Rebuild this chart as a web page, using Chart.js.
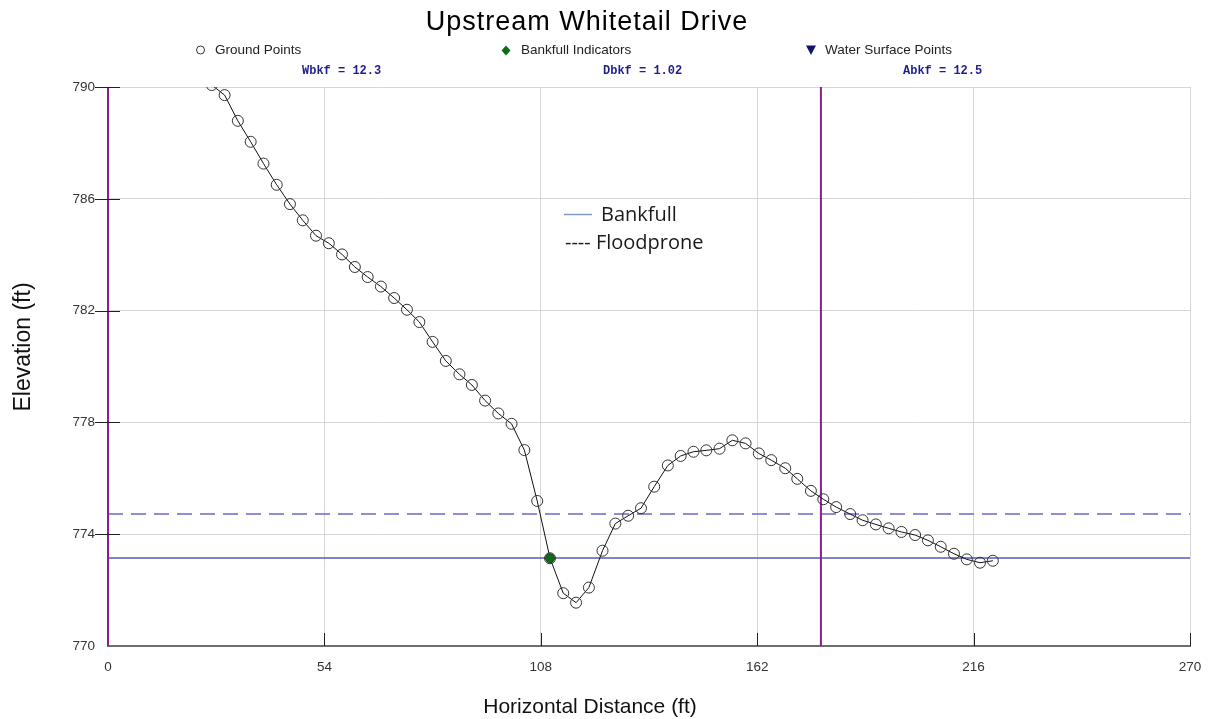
<!DOCTYPE html>
<html>
<head>
<meta charset="utf-8">
<script src="https://cdn.jsdelivr.net/npm/chart.js@4.4.1/dist/chart.umd.min.js"></script>
<style>
html,body{margin:0;padding:0;background:#fff;}
canvas{display:block;}
</style>
</head>
<body>
<canvas id="c" width="1208" height="719"></canvas>
<script>
// ---- data ----
const groundX = [22.6, 25.9, 29.1, 32.4, 35.6, 38.8, 42.1, 45.4, 48.6, 51.9, 55.1, 58.4, 61.6, 64.8, 68.1, 71.4, 74.6, 77.7, 81.0, 84.3, 87.7, 90.8, 94.1, 97.4, 100.7, 103.9, 107.1, 110.3, 113.6, 116.8, 120.0, 123.4, 126.6, 129.8, 133.0, 136.3, 139.7, 142.9, 146.1, 149.3, 152.6, 155.8, 159.1, 162.4, 165.5, 169.0, 172.0, 175.4, 178.5, 181.7, 185.2, 188.3, 191.6, 194.8, 198.0, 201.4, 204.6, 207.8, 211.1, 214.3, 217.6, 220.8];
const groundY = [790.6, 790.07, 789.71, 788.79, 788.04, 787.26, 786.50, 785.81, 785.23, 784.68, 784.41, 784.01, 783.56, 783.20, 782.86, 782.45, 782.03, 781.59, 780.88, 780.20, 779.72, 779.34, 778.78, 778.32, 777.95, 777.01, 775.19, 773.14, 771.89, 771.55, 772.09, 773.41, 774.38, 774.66, 774.93, 775.70, 776.46, 776.80, 776.95, 777.00, 777.06, 777.36, 777.25, 776.89, 776.65, 776.36, 775.98, 775.55, 775.25, 774.97, 774.72, 774.50, 774.35, 774.21, 774.08, 773.97, 773.78, 773.55, 773.30, 773.10, 772.98, 773.05];
const bankfullIndicatorX = [110.3];
const bankfullIndicatorY = [773.14];
const bankfullElevation = 773.15;
const floodproneElevation = 774.72;
const floodproneEdgeX = [0, 177.9];
const xRange = [0, 270];
const yRange = [770, 790];
const xTicks = [0, 54, 108, 162, 216, 270];
const yTicks = [770, 774, 778, 782, 786, 790];
const chartTitle = 'Upstream Whitetail Drive';
const legendLabels = ['Ground Points', 'Bankfull Indicators', 'Water Surface Points'];
const statLabels = ['Wbkf = 12.3', 'Dbkf = 1.02', 'Abkf = 12.5'];
const innerLegend = ['Bankfull', '---- Floodprone'];
const xTitle = 'Horizontal Distance (ft)';
const yTitle = 'Elevation (ft)';

const pts = (xs, ys) => xs.map((v, i) => ({x: v, y: ys[i]}));

const datasets = [
  {
    label: 'Bankfull',
    data: [{x: xRange[0], y: bankfullElevation}, {x: xRange[1], y: bankfullElevation}],
    borderColor: '#5a5ab8', borderWidth: 1.5, pointRadius: 0, showLine: true, order: 5
  },
  {
    label: 'Floodprone',
    data: [{x: xRange[0], y: floodproneElevation}, {x: xRange[1], y: floodproneElevation}],
    borderColor: '#6a6ac4', borderWidth: 1.5, borderDash: [15, 8], pointRadius: 0, showLine: true, order: 5
  },
  ...floodproneEdgeX.map(v => ({
    label: 'edge',
    data: [{x: v, y: yRange[0]}, {x: v, y: yRange[1]}],
    borderColor: '#8e1c8e', borderWidth: 2, pointRadius: 0, showLine: true, clip: false, order: 4
  })),
  {
    label: legendLabels[0],
    data: pts(groundX, groundY),
    showLine: true, borderColor: '#111', borderWidth: 1, tension: 0,
    pointStyle: 'circle', pointRadius: 5.5, pointBorderWidth: 1,
    pointBorderColor: '#333', pointBackgroundColor: 'rgba(255,255,255,0)', order: 2
  },
  {
    label: legendLabels[1],
    data: pts(bankfullIndicatorX, bankfullIndicatorY),
    showLine: false, pointStyle: 'circle', pointRadius: 4.5, pointBorderWidth: 1,
    pointBorderColor: '#1d3d1d', pointBackgroundColor: '#0b6e16', order: 1
  },
  {
    label: legendLabels[2],
    data: [], pointStyle: 'triangle', pointBackgroundColor: '#141470', order: 1
  }
];

const decor = {
  id: 'decor',
  afterDraw(chart) {
    const {ctx, scales: {x, y}, chartArea: a} = chart;
    ctx.save();
    // tick marks
    ctx.strokeStyle = '#222';
    ctx.lineWidth = 1;
    xTicks.forEach(v => {
      if (v === xRange[0]) return;
      const px = Math.round(x.getPixelForValue(v)) + 0.5;
      ctx.beginPath(); ctx.moveTo(px, a.bottom); ctx.lineTo(px, a.bottom - 13); ctx.stroke();
    });
    yTicks.forEach(v => {
      if (v === yRange[0]) return;
      const py = Math.round(y.getPixelForValue(v)) + 0.5;
      ctx.beginPath(); ctx.moveTo(a.left - 13, py); ctx.lineTo(a.left + 12, py); ctx.stroke();
    });

    // title
    ctx.fillStyle = '#000';
    ctx.font = '27px "Liberation Sans", Arial, sans-serif';
    ctx.textBaseline = 'alphabetic';
    ctx.textAlign = 'center';
    try { ctx.letterSpacing = '1px'; } catch (e) {}
    ctx.fillText(chartTitle, 587, 30);
    try { ctx.letterSpacing = '0px'; } catch (e) {}

    // top legend
    ctx.font = '13.5px "Liberation Sans", Arial, sans-serif';
    ctx.textAlign = 'left';
    ctx.textBaseline = 'middle';
    ctx.fillStyle = '#222';
    const legX = [215, 521, 825];
    legendLabels.forEach((t, i) => ctx.fillText(t, legX[i], 50));
    // symbols
    ctx.beginPath(); ctx.arc(200.5, 50, 4, 0, Math.PI * 2);
    ctx.strokeStyle = '#333'; ctx.lineWidth = 1; ctx.stroke();
    ctx.beginPath();
    ctx.moveTo(506, 45.5); ctx.lineTo(510.5, 50.5); ctx.lineTo(506, 55.5); ctx.lineTo(501.5, 50.5); ctx.closePath();
    ctx.fillStyle = '#0b6e16'; ctx.fill();
    ctx.beginPath();
    ctx.moveTo(806, 45.5); ctx.lineTo(816, 45.5); ctx.lineTo(811, 55); ctx.closePath();
    ctx.fillStyle = '#141470'; ctx.fill();

    // stats
    ctx.font = 'bold 12px "Liberation Mono", "Courier New", monospace';
    ctx.fillStyle = '#1e1e90';
    const statX = [302, 603, 903];
    statLabels.forEach((t, i) => ctx.fillText(t, statX[i], 71));

    // axis titles
    ctx.fillStyle = '#111';
    ctx.font = '21px "Liberation Sans", Arial, sans-serif';
    ctx.textAlign = 'center';
    ctx.fillText(xTitle, 590, 707);
    ctx.save();
    ctx.translate(24, 347);
    ctx.rotate(-Math.PI / 2);
    ctx.font = '23px "Liberation Sans", Arial, sans-serif';
    ctx.fillText(yTitle, 0, 0);
    ctx.restore();

    // inner legend
    ctx.strokeStyle = '#7f9cc4';
    ctx.lineWidth = 1.5;
    ctx.beginPath(); ctx.moveTo(564, 214.5); ctx.lineTo(592, 214.5); ctx.stroke();
    ctx.fillStyle = '#1a1a1a';
    ctx.font = '20px "Open Sans", "Noto Sans", sans-serif';
    ctx.textAlign = 'left';
    ctx.fillText(innerLegend[0], 601, 215);
    ctx.fillText(innerLegend[1], 565, 243);
    ctx.restore();
  }
};

new Chart(document.getElementById('c'), {
  type: 'scatter',
  data: {datasets},
  options: {
    responsive: false,
    animation: false,
    events: [],
    layout: {padding: {top: 87, right: 18, left: 0, bottom: 0}},
    plugins: {legend: {display: false}, tooltip: {enabled: false}, title: {display: false}},
    scales: {
      x: {
        type: 'linear', min: xRange[0], max: xRange[1],
        afterBuildTicks: s => { s.ticks = xTicks.map(v => ({value: v})); },
        afterFit: s => { s.height = 73; s.paddingLeft = 0; s.paddingRight = 0; },
        grid: {color: '#d6d6d6', lineWidth: 1, drawTicks: false},
        border: {display: true, color: '#6e6e6e', width: 2},
        ticks: {padding: 13, color: '#333', font: {family: '"Liberation Sans", Arial, sans-serif', size: 13.5}, maxRotation: 0}
      },
      y: {
        type: 'linear', min: yRange[0], max: yRange[1],
        afterBuildTicks: s => { s.ticks = yTicks.map(v => ({value: v})); },
        afterFit: s => { s.width = 108; s.paddingTop = 0; s.paddingBottom = 0; },
        grid: {color: '#d6d6d6', lineWidth: 1, drawTicks: false},
        border: {display: false},
        ticks: {padding: 13, color: '#333', font: {family: '"Liberation Sans", Arial, sans-serif', size: 13.5}}
      }
    }
  },
  plugins: [decor]
});
</script>
</body>
</html>
